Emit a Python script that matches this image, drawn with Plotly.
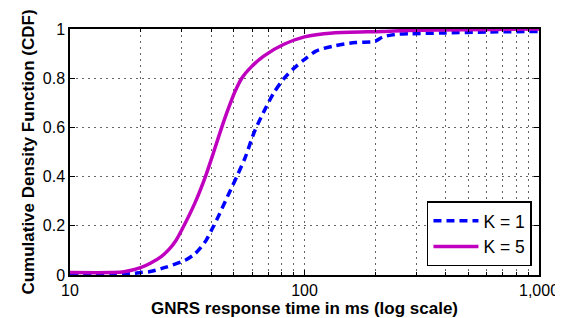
import plotly.graph_objects as go

# Data
k1_ms = [10, 15, 18, 20, 22, 25.7, 31, 34, 36, 38, 40.5, 43, 47, 52, 56, 61, 67, 74, 82, 90, 99, 112, 132, 165, 200, 215, 243, 286, 393, 600, 1000]
k1_cdf = [0.0, 0.002, 0.005, 0.01, 0.014, 0.032, 0.06, 0.085, 0.11, 0.14, 0.19, 0.24, 0.32, 0.41, 0.48, 0.58, 0.663, 0.741, 0.80, 0.84, 0.873, 0.91, 0.93, 0.945, 0.95, 0.967, 0.978, 0.981, 0.984, 0.988, 0.99]

k5_ms = [10, 15, 17, 20, 22, 24.5, 26.5, 28.3, 30.6, 34, 37.8, 41, 44, 47.5, 50.5, 54, 59.3, 67, 81.7, 100, 132, 214, 300, 1000]
k5_cdf = [0.01, 0.01, 0.013, 0.03, 0.048, 0.075, 0.105, 0.14, 0.2, 0.29, 0.40, 0.50, 0.59, 0.68, 0.745, 0.80, 0.846, 0.89, 0.938, 0.968, 0.984, 0.99, 0.995, 1.0]

series_names = ["K = 1", "K = 5"]
x_ticks = [10, 100, 1000]
x_tick_labels = ["10", "100", "1,000"]
x_minor = [20, 30, 40, 50, 60, 70, 80, 90, 200, 300, 400, 500, 600, 700, 800, 900]
y_ticks = [0, 0.2, 0.4, 0.6, 0.8, 1]
y_tick_labels = ["0", "0.2", "0.4", "0.6", "0.8", "1"]

fig = go.Figure()
fig.add_trace(go.Scatter(x=k1_ms, y=k1_cdf, mode="lines", name=series_names[0],
                         line=dict(color="#0000FF", width=3.5, dash="8px,5px", shape="spline", smoothing=0.8)))
fig.add_trace(go.Scatter(x=k5_ms, y=k5_cdf, mode="lines", name=series_names[1],
                         line=dict(color="#BF00BF", width=3.5, shape="spline", smoothing=0.8)))

font = "Liberation Sans, Arial, sans-serif"
grid_dash = "1.5px,4.5px"
grid_color = "#666666"
fig.update_layout(
    width=563, height=318,
    margin=dict(l=62, r=23, t=21, b=43),
    paper_bgcolor="white", plot_bgcolor="white",
    font=dict(family=font, size=16, color="black"),
    showlegend=True,
    legend=dict(x=0.985, y=0.035, xanchor="right", yanchor="bottom",
                bordercolor="black", borderwidth=1.5, bgcolor="white",
                font=dict(size=17.5), itemwidth=45, tracegroupgap=0),
)
fig.update_xaxes(
    type="log", range=[1, 3],
    tickvals=x_ticks, ticktext=x_tick_labels,
    showline=True, linecolor="black", linewidth=1.5, mirror="allticks",
    ticks="inside", ticklen=5, tickcolor="black",
    showgrid=True, gridcolor=grid_color, griddash=grid_dash, gridwidth=1,
    minor=dict(tickvals=x_minor, showgrid=True, gridcolor=grid_color, griddash=grid_dash,
               ticks="inside", ticklen=3, tickcolor="black"),
    zeroline=False,
    title=dict(text="<b>GNRS response time in ms (log scale)</b>", font=dict(size=17), standoff=3),
    tickfont=dict(size=16),
)
fig.update_yaxes(
    range=[0, 1],
    tickvals=y_ticks, ticktext=y_tick_labels,
    showline=True, linecolor="black", linewidth=1.5, mirror="allticks",
    ticks="inside", ticklen=5, tickcolor="black",
    showgrid=True, gridcolor=grid_color, griddash=grid_dash, gridwidth=1,
    zeroline=False,
    title=dict(text="<b>Cumulative Density Function (CDF)</b>", font=dict(size=17), standoff=4),
    tickfont=dict(size=16),
)

fig.write_html("out.html")
